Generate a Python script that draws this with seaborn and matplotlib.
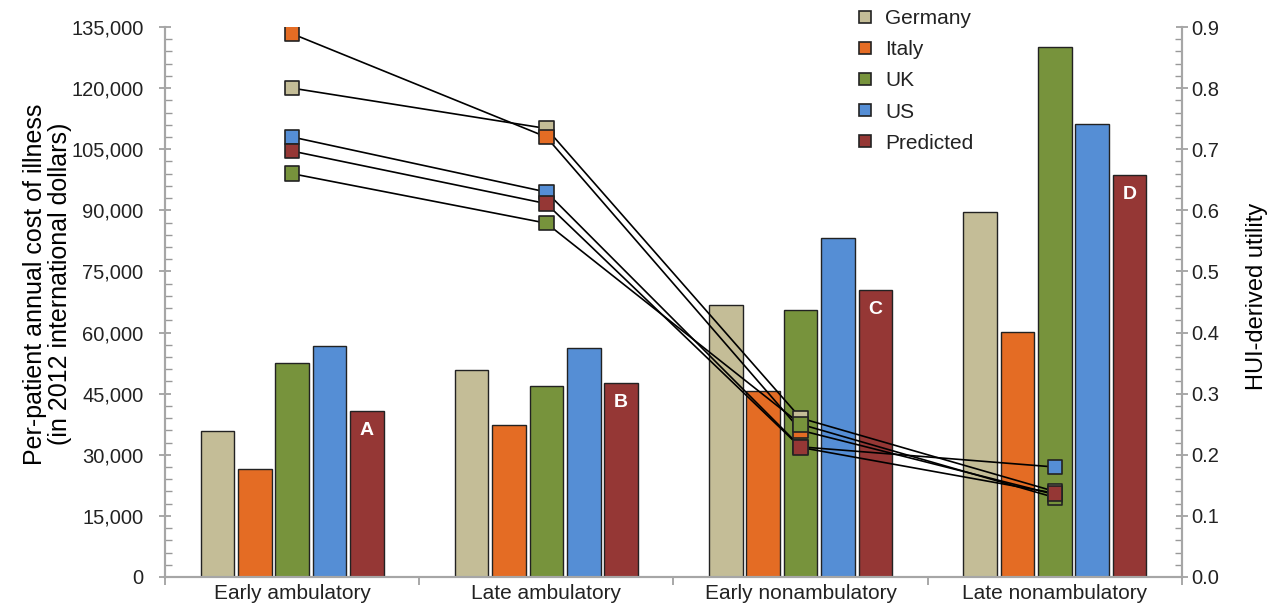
import pandas as pd
import seaborn as sns
import matplotlib.pyplot as plt
from matplotlib.ticker import MultipleLocator, FuncFormatter
from matplotlib.lines import Line2D

stages = ['Early ambulatory', 'Late ambulatory', 'Early nonambulatory',
          'Late nonambulatory']
countries = ['Germany', 'Italy', 'UK', 'US', 'Predicted']
colors = ['#C4BD97', '#E46C24', '#77933C', '#558ED5', '#953735']
letters = ['A', 'B', 'C', 'D']

# per-patient annual cost (2012 international dollars)
cost_germany = [35800, 50900, 66800, 89600]
cost_italy = [26500, 37200, 45700, 60100]
cost_uk = [52500, 47000, 65500, 130100]
cost_us = [56700, 56100, 83200, 111200]
cost_predicted = [40700, 47500, 70400, 98700]

# HUI-derived utility
hui_germany = [0.800, 0.734, 0.260, 0.140]
hui_italy = [0.889, 0.720, 0.240, 0.135]
hui_uk = [0.660, 0.579, 0.250, 0.130]
hui_us = [0.720, 0.630, 0.213, 0.180]
hui_predicted = [0.697, 0.611, 0.212, 0.137]


def build_frame():
    '''
    Puts the lists above into one long data frame, one row per
    country and stage.
    '''
    costs = [cost_germany, cost_italy, cost_uk, cost_us, cost_predicted]
    huis = [hui_germany, hui_italy, hui_uk, hui_us, hui_predicted]
    rows = []
    for name, cost, hui in zip(countries, costs, huis):
        for i, stage in enumerate(stages):
            rows.append([name, stage, i, cost[i], hui[i]])
    return pd.DataFrame(rows, columns=['country', 'stage', 'pos',
                                       'cost', 'hui'])


def main():
    plt.rcParams['font.family'] = ['Liberation Sans', 'DejaVu Sans']
    plt.rcParams['text.color'] = '#222222'
    plt.rcParams['xtick.color'] = '#999999'
    plt.rcParams['ytick.color'] = '#999999'
    plt.rcParams['xtick.labelcolor'] = '#222222'
    plt.rcParams['ytick.labelcolor'] = '#222222'

    df = build_frame()

    fig = plt.figure(figsize=(12.7, 6.1), dpi=100)
    ax = fig.add_axes([0.1299, 0.0541, 0.8008, 0.9016])

    sns.barplot(data=df, x='stage', y='cost', hue='country',
                hue_order=countries, order=stages, palette=colors,
                saturation=1, width=0.735, gap=0.1, edgecolor='#222222',
                linewidth=1, legend=False, ax=ax)

    # white letters inside the predicted bars
    for bar, letter in zip(ax.containers[4], letters):
        ax.annotate(letter, (bar.get_x() + bar.get_width() / 2,
                             bar.get_height()),
                    xytext=(0, -14), textcoords='offset points',
                    ha='center', va='center', color='white',
                    fontsize=14, fontweight='bold')

    ax2 = ax.twinx()
    sns.lineplot(data=df, x='pos', y='hui', hue='country',
                 hue_order=countries, palette=['black'] * 5,
                 linewidth=1.2, legend=False, sort=False, ax=ax2, zorder=3)
    sns.scatterplot(data=df, x='pos', y='hui', hue='country',
                    hue_order=countries, palette=colors, marker='s', s=110,
                    edgecolor='#222222', linewidth=1.2, legend=False,
                    ax=ax2, zorder=4)

    ax.set_xlim(-0.5, 3.5)
    ax.set_ylim(0, 135000)
    ax2.set_ylim(0, 0.9)

    ax.set_xticks(range(4))
    ax.set_xticklabels(stages, fontsize=15)
    ax.set_xticks([-0.5, 0.5, 1.5, 2.5, 3.5], minor=True)
    ax.tick_params(axis='x', which='major', length=0, pad=5)
    ax.tick_params(axis='x', which='minor', length=6, width=1.2,
                   direction='out')
    ax.set_xlabel('')

    ax.yaxis.set_major_locator(MultipleLocator(15000))
    ax.yaxis.set_minor_locator(MultipleLocator(3000))
    ax.yaxis.set_major_formatter(FuncFormatter(lambda v, p: f'{v:,.0f}'))
    ax2.yaxis.set_major_locator(MultipleLocator(0.1))
    ax2.yaxis.set_minor_locator(MultipleLocator(0.02))
    ax2.yaxis.set_major_formatter(FuncFormatter(lambda v, p: f'{v:.1f}'))
    for a in [ax, ax2]:
        a.tick_params(axis='y', which='major', direction='inout', length=9,
                      width=1.2, labelsize=14.5)
        a.tick_params(axis='y', which='minor', direction='in', length=5,
                      width=1)
    ax.tick_params(axis='y', which='major', pad=11)
    ax2.tick_params(axis='y', which='major', pad=2)

    ax.set_ylabel('Per-patient annual cost of illness\n'
                  '(in 2012 international dollars)', fontsize=18,
                  linespacing=1.05)
    ax.yaxis.set_label_coords(-0.091, 0.533)
    ax2.set_ylabel('HUI-derived utility', fontsize=17)
    ax2.yaxis.set_label_coords(1.063, 0.51)
    ax2.set_xlabel('')

    for a in [ax, ax2]:
        a.spines['top'].set_visible(False)
        for side in ['left', 'right', 'bottom']:
            a.spines[side].set_color('#A6A6A6')
            a.spines[side].set_linewidth(1.5)

    handles = [Line2D([], [], marker='s', linestyle='', markersize=8,
                      markerfacecolor=c, markeredgecolor='#222222',
                      markeredgewidth=1.2) for c in colors]
    fig.legend(handles, countries, loc='upper left',
               bbox_to_anchor=(848 / 1270, 1 - 1 / 610), frameon=False,
               fontsize=15, handlelength=0.8, handletextpad=0.6,
               labelspacing=0.58, borderaxespad=0)

    fig.savefig('out.png', dpi=100)


if __name__ == '__main__':
    main()
